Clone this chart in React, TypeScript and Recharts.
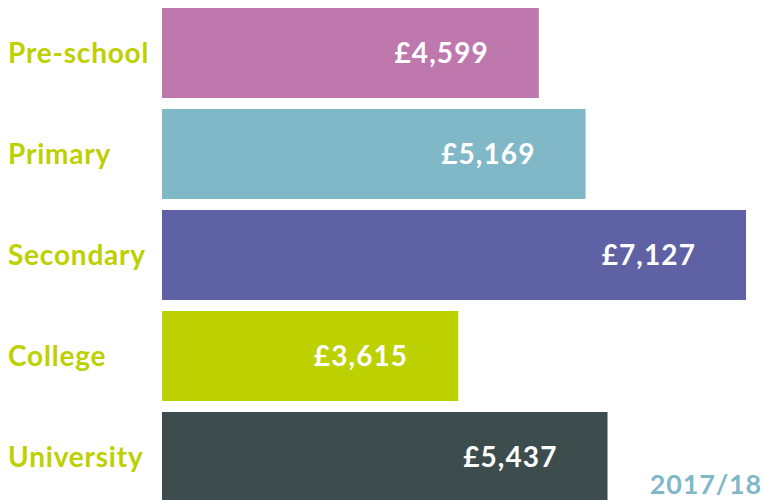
import { Bar, BarChart, Cell, LabelList, XAxis, YAxis } from "recharts";

const categories = ["Pre-school", "Primary", "Secondary", "College", "University"];
const spending = [4599, 5169, 7127, 3615, 5437];
const barColors = ["#bf78ad", "#80b8c8", "#5e62a4", "#bdd000", "#3d4c4c"];
const yearLabel = "2017/18";

const chartData = categories.map((stage, i) => ({ stage, value: spending[i] }));

const labelFont = "Lato, 'Open Sans', sans-serif";

const StageTick = (props: any) => {
  const { y, payload } = props;
  return (
    <text
      x={8}
      y={y}
      dy={10}
      textAnchor="start"
      fill="#bdd000"
      fontFamily={labelFont}
      fontWeight={700}
      fontSize={28}
      letterSpacing={0.8}
    >
      {payload.value}
    </text>
  );
};

const ValueLabel = (props: any) => {
  const { x, y, width, height, value } = props;
  return (
    <text
      x={x + width - 50}
      y={y + height / 2}
      dy={10}
      textAnchor="end"
      fill="#ffffff"
      fontFamily={labelFont}
      fontWeight={700}
      fontSize={28}
      letterSpacing={1.1}
    >
      £{Number(value).toLocaleString("en-GB")}
    </text>
  );
};

export default function App() {
  return (
    <div
      style={{
        position: "absolute",
        top: 0,
        left: 0,
        width: 765,
        height: 500,
        overflow: "hidden",
        background: "#fff",
      }}
    >
      <BarChart
        width={765}
        height={507}
        data={chartData}
        layout="vertical"
        margin={{ top: 2, right: 19, left: 0, bottom: 0 }}
        barCategoryGap={11}
      >
        <XAxis type="number" domain={[0, 7127]} hide />
        <YAxis
          type="category"
          dataKey="stage"
          width={162}
          axisLine={false}
          tickLine={false}
          tick={<StageTick />}
        />
        <Bar dataKey="value" barSize={90} isAnimationActive={false}>
          {chartData.map((d, i) => (
            <Cell key={d.stage} fill={barColors[i]} />
          ))}
          <LabelList dataKey="value" content={<ValueLabel />} />
        </Bar>
      </BarChart>
      <div
        style={{
          position: "absolute",
          right: 3,
          bottom: 3,
          lineHeight: "26px",
          color: "#80b8c8",
          fontFamily: labelFont,
          fontWeight: 700,
          fontSize: 27,
          letterSpacing: 0.8,
        }}
      >
        {yearLabel}
      </div>
    </div>
  );
}
